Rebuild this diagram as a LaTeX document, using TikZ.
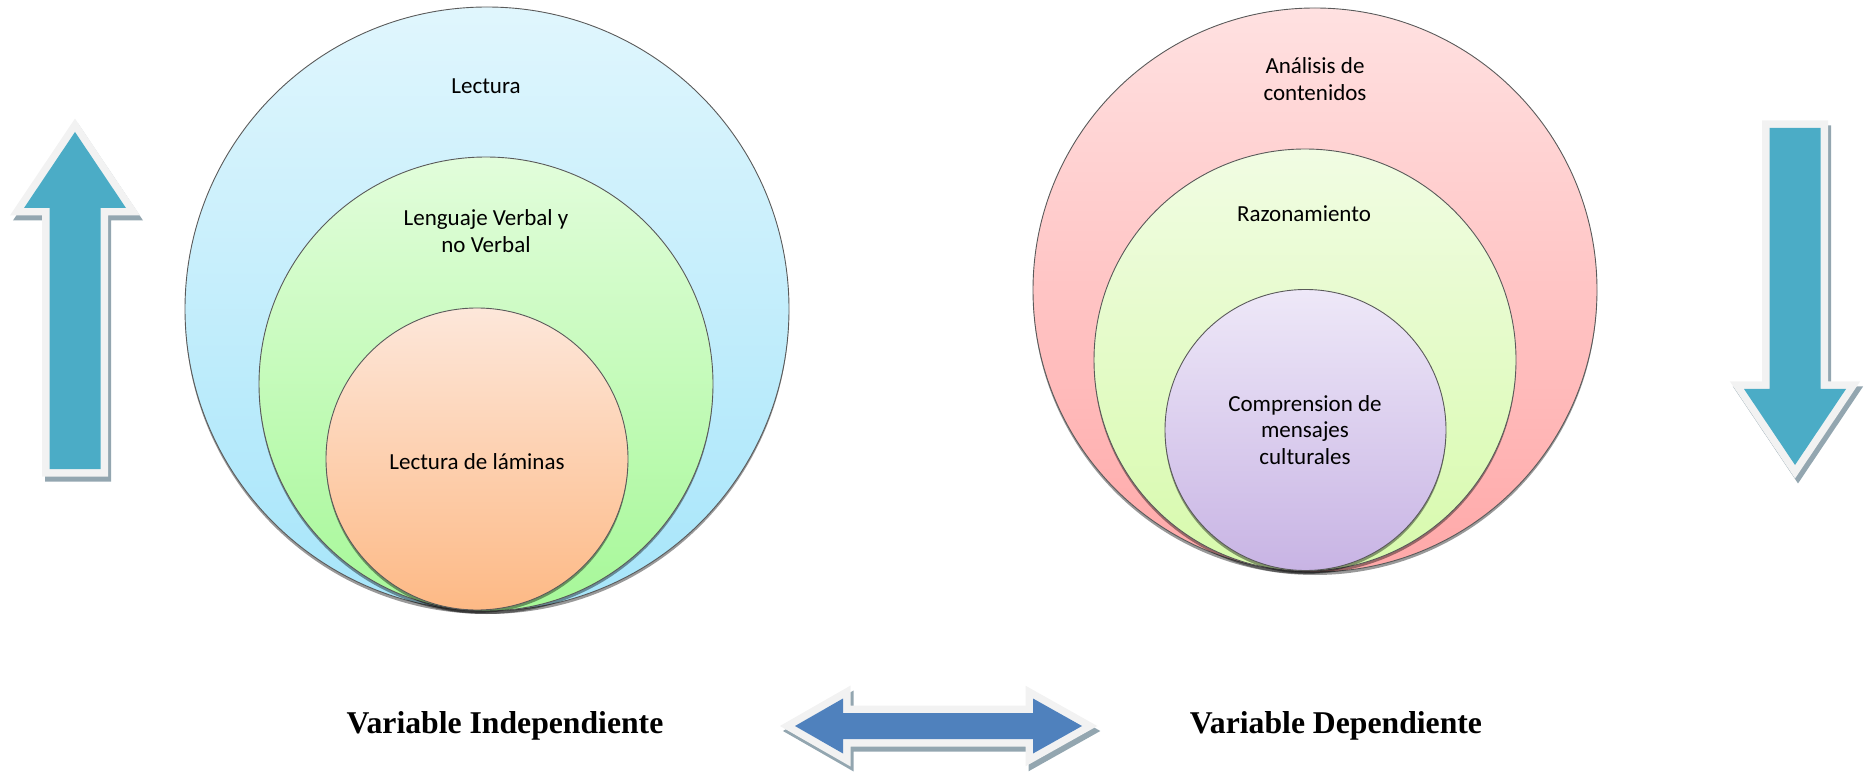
\documentclass[tikz,border=0pt]{standalone}
\usepackage{fontspec}
\setmainfont{Carlito}
\newfontfamily\tnr{Liberation Serif}
\usetikzlibrary{shadows}
\definecolor{edge}{HTML}{5A5A5A}
\definecolor{blueT}{HTML}{E0F6FD}\definecolor{blueB}{HTML}{A6E5FA}
\definecolor{greenT}{HTML}{E2FDDB}\definecolor{greenB}{HTML}{A6F898}
\definecolor{orangeT}{HTML}{FDE7DA}\definecolor{orangeB}{HTML}{FDB985}
\definecolor{pinkT}{HTML}{FFE1E1}\definecolor{pinkB}{HTML}{FFA8A8}
\definecolor{limeT}{HTML}{F1FCE3}\definecolor{limeB}{HTML}{D7FAAC}
\definecolor{purpT}{HTML}{EEE8F8}\definecolor{purpB}{HTML}{C8B4E4}
\definecolor{teal}{HTML}{4BACC6}
\definecolor{dblue}{HTML}{4F81BD}
\definecolor{rim}{HTML}{F2F2F2}
\definecolor{shd}{HTML}{93A6B0}
\begin{document}
\begin{tikzpicture}[x=1pt,y=-1pt,
  ring/.style={circle, inner sep=0pt, outer sep=0pt, draw=edge, line width=0.9pt,
    drop shadow={shadow xshift=0pt, shadow yshift=-3pt, opacity=0.4, fill=black}},
  lbl/.style={font=\fontsize{23}{26.5}\selectfont, align=center, text=black, inner sep=0pt},
  title/.style={font=\tnr\bfseries\fontsize{31.7}{36}\selectfont, text=black, inner sep=0pt},
  arrowshadow/.style={draw=shd, fill=shd, line width=15pt, line join=miter, shift={(3,5)}},
  arrowrim/.style={draw=rim, fill=rim, line width=15pt, line join=miter},
  uparr/.style={insert path={(75,132) -- (126,208) -- (100.5,208) -- (100.5,469) -- (49.5,469) -- (49.5,208) -- (24,208) -- cycle}},
  downarr/.style={insert path={(1769.5,128) -- (1820.5,128) -- (1820.5,389) -- (1846,389) -- (1795,465) -- (1744,389) -- (1769.5,389) -- cycle}},
  dblarr/.style={insert path={(795,726) -- (843,698.5) -- (843,713) -- (1033,713) -- (1033,698.5) -- (1082,726) -- (1033,753.5) -- (1033,739) -- (843,739) -- (843,753.5) -- cycle}}
]
\useasboundingbox (0,0) rectangle (1869,775);

% left group
\node[ring, minimum size=604pt, top color=blueT, bottom color=blueB] (lectura) at (487,309) {};
\node[ring, minimum size=454pt, top color=greenT, bottom color=greenB] (lenguaje) at (486,384) {};
\node[ring, minimum size=302pt, top color=orangeT, bottom color=orangeB] (laminas) at (477,459) {};
\node[lbl] (tLectura) at (486,86) {Lectura};
\node[lbl] (tLenguaje) at (486,231) {Lenguaje Verbal y\\no Verbal};
\node[lbl] (tLaminas) at (477,462) {Lectura de láminas};

% right group
\node[ring, minimum size=564pt, top color=pinkT, bottom color=pinkB] (analisis) at (1315,290) {};
\node[ring, minimum size=422pt, top color=limeT, bottom color=limeB] (razon) at (1305,360) {};
\node[ring, minimum size=281pt, top color=purpT, bottom color=purpB] (compr) at (1305.5,430) {};
\node[lbl] (tAnalisis) at (1315,79) {Análisis de\\contenidos};
\node[lbl] (tRazon) at (1304,214) {Razonamiento};
\node[lbl] (tCompr) at (1305,430) {Comprension de\\mensajes\\culturales};

% block arrows
\path[arrowshadow, uparr];
\path[arrowrim, uparr];
\fill[teal, uparr];

\path[arrowshadow, downarr];
\path[arrowrim, downarr];
\fill[teal, downarr];

\path[arrowshadow, dblarr];
\path[arrowrim, dblarr];
\fill[dblue, dblarr];

% bottom labels
\node[title] (vi) at (505,726) {Variable Independiente};
\node[title] (vd) at (1336,726) {Variable Dependiente};
\end{tikzpicture}
\end{document}
